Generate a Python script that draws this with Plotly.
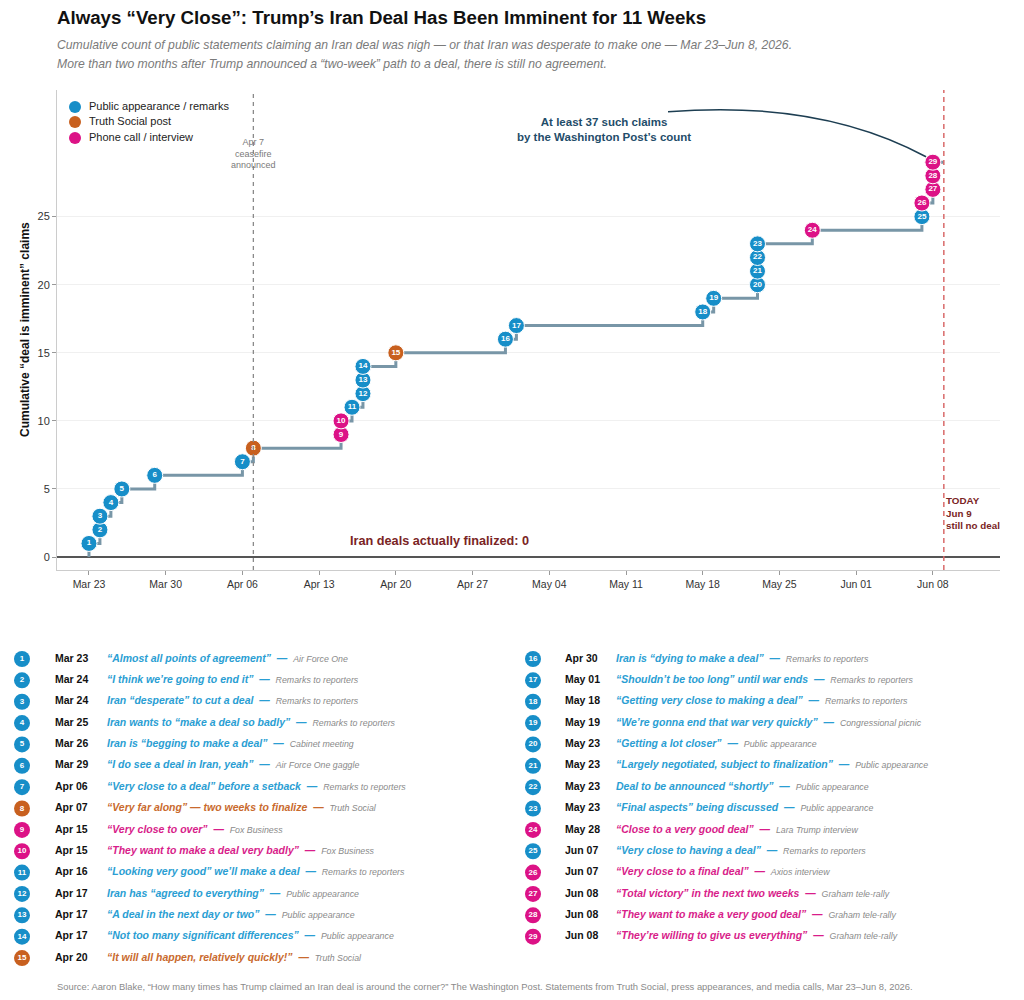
import pandas as pd
import plotly.graph_objects as go

FONT = "Liberation Sans, Arial, sans-serif"

# claims data
claim_dates = ["2026-03-23", "2026-03-24", "2026-03-24", "2026-03-25", "2026-03-26",
               "2026-03-29", "2026-04-06", "2026-04-07", "2026-04-15", "2026-04-15",
               "2026-04-16", "2026-04-17", "2026-04-17", "2026-04-17", "2026-04-20",
               "2026-04-30", "2026-05-01", "2026-05-18", "2026-05-19", "2026-05-23",
               "2026-05-23", "2026-05-23", "2026-05-23", "2026-05-28", "2026-06-07",
               "2026-06-07", "2026-06-08", "2026-06-08", "2026-06-08"]
claim_labels = ["Mar 23", "Mar 24", "Mar 24", "Mar 25", "Mar 26", "Mar 29", "Apr 06",
                "Apr 07", "Apr 15", "Apr 15", "Apr 16", "Apr 17", "Apr 17", "Apr 17",
                "Apr 20", "Apr 30", "May 01", "May 18", "May 19", "May 23", "May 23",
                "May 23", "May 23", "May 28", "Jun 07", "Jun 07", "Jun 08", "Jun 08",
                "Jun 08"]
claim_types = ["pub", "pub", "pub", "pub", "pub", "pub", "pub", "truth", "phone", "phone",
               "pub", "pub", "pub", "pub", "truth", "pub", "pub", "pub", "pub", "pub",
               "pub", "pub", "pub", "phone", "pub", "phone", "phone", "phone", "phone"]
claim_quotes = [
    "“Almost all points of agreement”",
    "“I think we’re going to end it”",
    "Iran “desperate” to cut a deal",
    "Iran wants to “make a deal so badly”",
    "Iran is “begging to make a deal”",
    "“I do see a deal in Iran, yeah”",
    "“Very close to a deal” before a setback",
    "“Very far along” — two weeks to finalize",
    "“Very close to over”",
    "“They want to make a deal very badly”",
    "“Looking very good” we’ll make a deal",
    "Iran has “agreed to everything”",
    "“A deal in the next day or two”",
    "“Not too many significant differences”",
    "“It will all happen, relatively quickly!”",
    "Iran is “dying to make a deal”",
    "“Shouldn’t be too long” until war ends",
    "“Getting very close to making a deal”",
    "“We’re gonna end that war very quickly”",
    "“Getting a lot closer”",
    "“Largely negotiated, subject to finalization”",
    "Deal to be announced “shortly”",
    "“Final aspects” being discussed",
    "“Close to a very good deal”",
    "“Very close to having a deal”",
    "“Very close to a final deal”",
    "“Total victory” in the next two weeks",
    "“They want to make a very good deal”",
    "“They’re willing to give us everything”",
]
claim_sources = ["Air Force One", "Remarks to reporters", "Remarks to reporters",
                 "Remarks to reporters", "Cabinet meeting", "Air Force One gaggle",
                 "Remarks to reporters", "Truth Social", "Fox Business", "Fox Business",
                 "Remarks to reporters", "Public appearance", "Public appearance",
                 "Public appearance", "Truth Social", "Remarks to reporters",
                 "Remarks to reporters", "Remarks to reporters", "Congressional picnic",
                 "Public appearance", "Public appearance", "Public appearance",
                 "Public appearance", "Lara Trump interview", "Remarks to reporters",
                 "Axios interview", "Graham tele-rally", "Graham tele-rally",
                 "Graham tele-rally"]

type_order = ["pub", "truth", "phone"]
type_names = {"pub": "Public appearance / remarks", "truth": "Truth Social post",
              "phone": "Phone call / interview"}
type_colors = {"pub": "#178ec8", "truth": "#c8601f", "phone": "#dc1286"}
text_colors = {"pub": "#2a9ed3", "truth": "#c96a2e", "phone": "#d81d8a"}

today = "2026-06-09"
ceasefire = "2026-04-07"
tick_dates = pd.date_range("2026-03-23", "2026-06-08", freq="7D")

df = pd.DataFrame({"date": pd.to_datetime(claim_dates), "label": claim_labels,
                   "type": claim_types, "quote": claim_quotes, "source": claim_sources})
df["n"] = range(1, len(df) + 1)

# page offset: the browser puts the plot 8px in from the corner
OFF = 8
W, H = 1024, 1000


def px(p):
    return (p - OFF) / W


def py(p):
    return 1 - (p - OFF) / H


fig = go.Figure()

# step line: starts at zero on first claim, runs on to today
step_x = [df["date"].iloc[0]] + list(df["date"]) + [pd.Timestamp(today)]
step_y = [0] + list(df["n"]) + [df["n"].iloc[-1]]
fig.add_trace(go.Scatter(x=step_x, y=step_y, mode="lines", line_shape="hv",
                         line=dict(color="#7896a7", width=3), showlegend=False,
                         hoverinfo="skip"))

for t in type_order:
    sub = df[df["type"] == t]
    fig.add_trace(go.Scatter(
        x=sub["date"], y=sub["n"], mode="markers+text", text=sub["n"],
        textposition="middle center",
        textfont=dict(family=FONT, size=8, color="white", weight="bold"),
        marker=dict(size=16, color=type_colors[t], line=dict(color="white", width=1)),
        showlegend=False))

# second pair of axes in screen pixels, used for the legend and the table
ov = dict(xaxis="x2", yaxis="y2", showlegend=False, hoverinfo="skip")

leg_y = [107, 122, 138]
fig.add_trace(go.Scatter(
    x=[75] * 3, y=leg_y, mode="markers",
    marker=dict(size=12, color=[type_colors[t] for t in type_order]), **ov))
fig.add_trace(go.Scatter(
    x=[89] * 3, y=leg_y, mode="text", text=[type_names[t] for t in type_order],
    textposition="middle right", textfont=dict(family=FONT, size=11, color="#222"), **ov))

df["col"] = [0 if n <= 15 else 1 for n in df["n"]]
df["row"] = [n - 1 if n <= 15 else n - 16 for n in df["n"]]
col_marker = [22, 533]
col_date = [55, 565]
col_quote = [107, 616]
row_y = [659 + r * 21.36 for r in df["row"]]

fig.add_trace(go.Scatter(
    x=[col_marker[c] for c in df["col"]], y=row_y, mode="markers+text",
    text=df["n"], textposition="middle center",
    textfont=dict(family=FONT, size=8, color="white", weight="bold"),
    marker=dict(size=16, color=[type_colors[t] for t in df["type"]]), **ov))
fig.add_trace(go.Scatter(
    x=[col_date[c] for c in df["col"]], y=row_y, mode="text",
    text=["<b>" + s + "</b>" for s in df["label"]], textposition="middle right",
    textfont=dict(family=FONT, size=10.5, color="#111"), **ov))
fig.add_trace(go.Scatter(
    x=[col_quote[c] for c in df["col"]], y=row_y, mode="text",
    text=["<b><i>" + q + "  —</i></b>  <span style='font-size:8.8px;color:#8a8a8a'><i>"
          + s + "</i></span>" for q, s in zip(df["quote"], df["source"])],
    textposition="middle right",
    textfont=dict(family=FONT, size=10.5, color=[text_colors[t] for t in df["type"]]),
    **ov))

# vertical reference lines
fig.add_shape(type="line", xref="x", yref="y domain", x0=ceasefire, x1=ceasefire,
              y0=0, y1=1, line=dict(color="#8a8a8a", width=1.3, dash="4px,4px"))
fig.add_shape(type="line", xref="x", yref="y domain", x0=today, x1=today,
              y0=0, y1=1, line=dict(color="#d96a6a", width=1.5, dash="5px,4px"))


# curved connector from callout to the last claim
def ms(s):
    return pd.Timestamp(s).value // 10**6


p0 = (ms("2026-05-14 20:00"), 32.7)
pc = (ms("2026-05-28 17:00"), 33.6)
p1 = (ms("2026-06-07 09:00"), 29.4)
fig.add_shape(type="path", xref="x", yref="y",
              path=f"M {p0[0]},{p0[1]} Q {pc[0]},{pc[1]} {p1[0]},{p1[1]}",
              line=dict(color="#1d3e52", width=1.5))

ann = [
    dict(x=px(55), y=py(17), xref="paper", yref="paper", xanchor="left",
         yanchor="middle", showarrow=False,
         text="<b>Always “Very Close”: Trump’s Iran Deal Has Been Imminent for 11 Weeks</b>",
         font=dict(family=FONT, size=18.7, color="#111")),
    dict(x=px(55), y=py(45), xref="paper", yref="paper", xanchor="left",
         yanchor="middle", showarrow=False,
         text="<i>Cumulative count of public statements claiming an Iran deal was nigh — or that Iran was desperate to make one — Mar 23–Jun 8, 2026.</i>",
         font=dict(family=FONT, size=12.2, color="#7a7a7a")),
    dict(x=px(55), y=py(64), xref="paper", yref="paper", xanchor="left",
         yanchor="middle", showarrow=False,
         text="<i>More than two months after Trump announced a “two-week” path to a deal, there is still no agreement.</i>",
         font=dict(family=FONT, size=12.2, color="#7a7a7a")),
    dict(x=px(25), y=py(330), xref="paper", yref="paper", textangle=-90,
         xanchor="center", yanchor="middle",
         showarrow=False, text="<b>Cumulative “deal is imminent” claims</b>",
         font=dict(family=FONT, size=12, color="#111")),
    dict(x=ceasefire, y=29.6, xref="x", yref="y", showarrow=False,
         text="Apr 7<br>ceasefire<br>announced",
         font=dict(family=FONT, size=9, color="#7a7a7a")),
    dict(x=today, y=3.2, xref="x", yref="y", xanchor="left", align="left",
         showarrow=False, text="<b>TODAY<br>Jun 9<br>still no deal</b>",
         font=dict(family=FONT, size=9.8, color="#7a2424")),
    dict(x="2026-04-24", y=1.2, xref="x", yref="y", showarrow=False,
         text="<b>Iran deals actually finalized: 0</b>",
         font=dict(family=FONT, size=12.7, color="#7a2424")),
    dict(x="2026-05-09", y=31.4, xref="x", yref="y", showarrow=False,
         text="<b>At least 37 such claims<br>by the Washington Post’s count</b>",
         font=dict(family=FONT, size=11.5, color="#1f4d6a")),
    dict(x=px(55), y=py(986), xref="paper", yref="paper", xanchor="left",
         yanchor="middle", showarrow=False,
         text="Source: Aaron Blake, “How many times has Trump claimed an Iran deal is around the corner?” The Washington Post. Statements from Truth Social, press appearances, and media calls, Mar 23–Jun 8, 2026.",
         font=dict(family=FONT, size=9.4, color="#8a8a8a")),
]

fig.update_layout(
    width=W, height=H, margin=dict(l=0, r=0, t=0, b=0),
    paper_bgcolor="white", plot_bgcolor="rgba(0,0,0,0)",
    font=dict(family=FONT, size=11, color="#333"),
    annotations=ann, showlegend=False,
    xaxis=dict(domain=[px(57), px(1000)], type="date",
               range=["2026-03-20 02:00", "2026-06-14 03:00"],
               tickvals=tick_dates, tickformat="%b %d", ticks="outside", ticklen=4,
               tickcolor="#999", showgrid=False, showline=True, linecolor="#ccc",
               zeroline=False, automargin=False, tickfont=dict(size=10.5, color="#333")),
    yaxis=dict(domain=[py(570), py(90)], range=[-0.95, 34.3],
               tickvals=[0, 5, 10, 15, 20, 25], ticks="outside", ticklen=4,
               tickcolor="#999", showgrid=True, gridcolor="#f0f0f0", showline=True,
               linecolor="#ccc", zeroline=True, zerolinecolor="#555", zerolinewidth=2,
               automargin=False, tickfont=dict(size=11, color="#333")),
    xaxis2=dict(domain=[0, 1], range=[OFF, OFF + W], visible=False, anchor="y2"),
    yaxis2=dict(domain=[0, 1], range=[OFF + H, OFF], visible=False, anchor="x2"),
)

fig.write_html("out.html")
